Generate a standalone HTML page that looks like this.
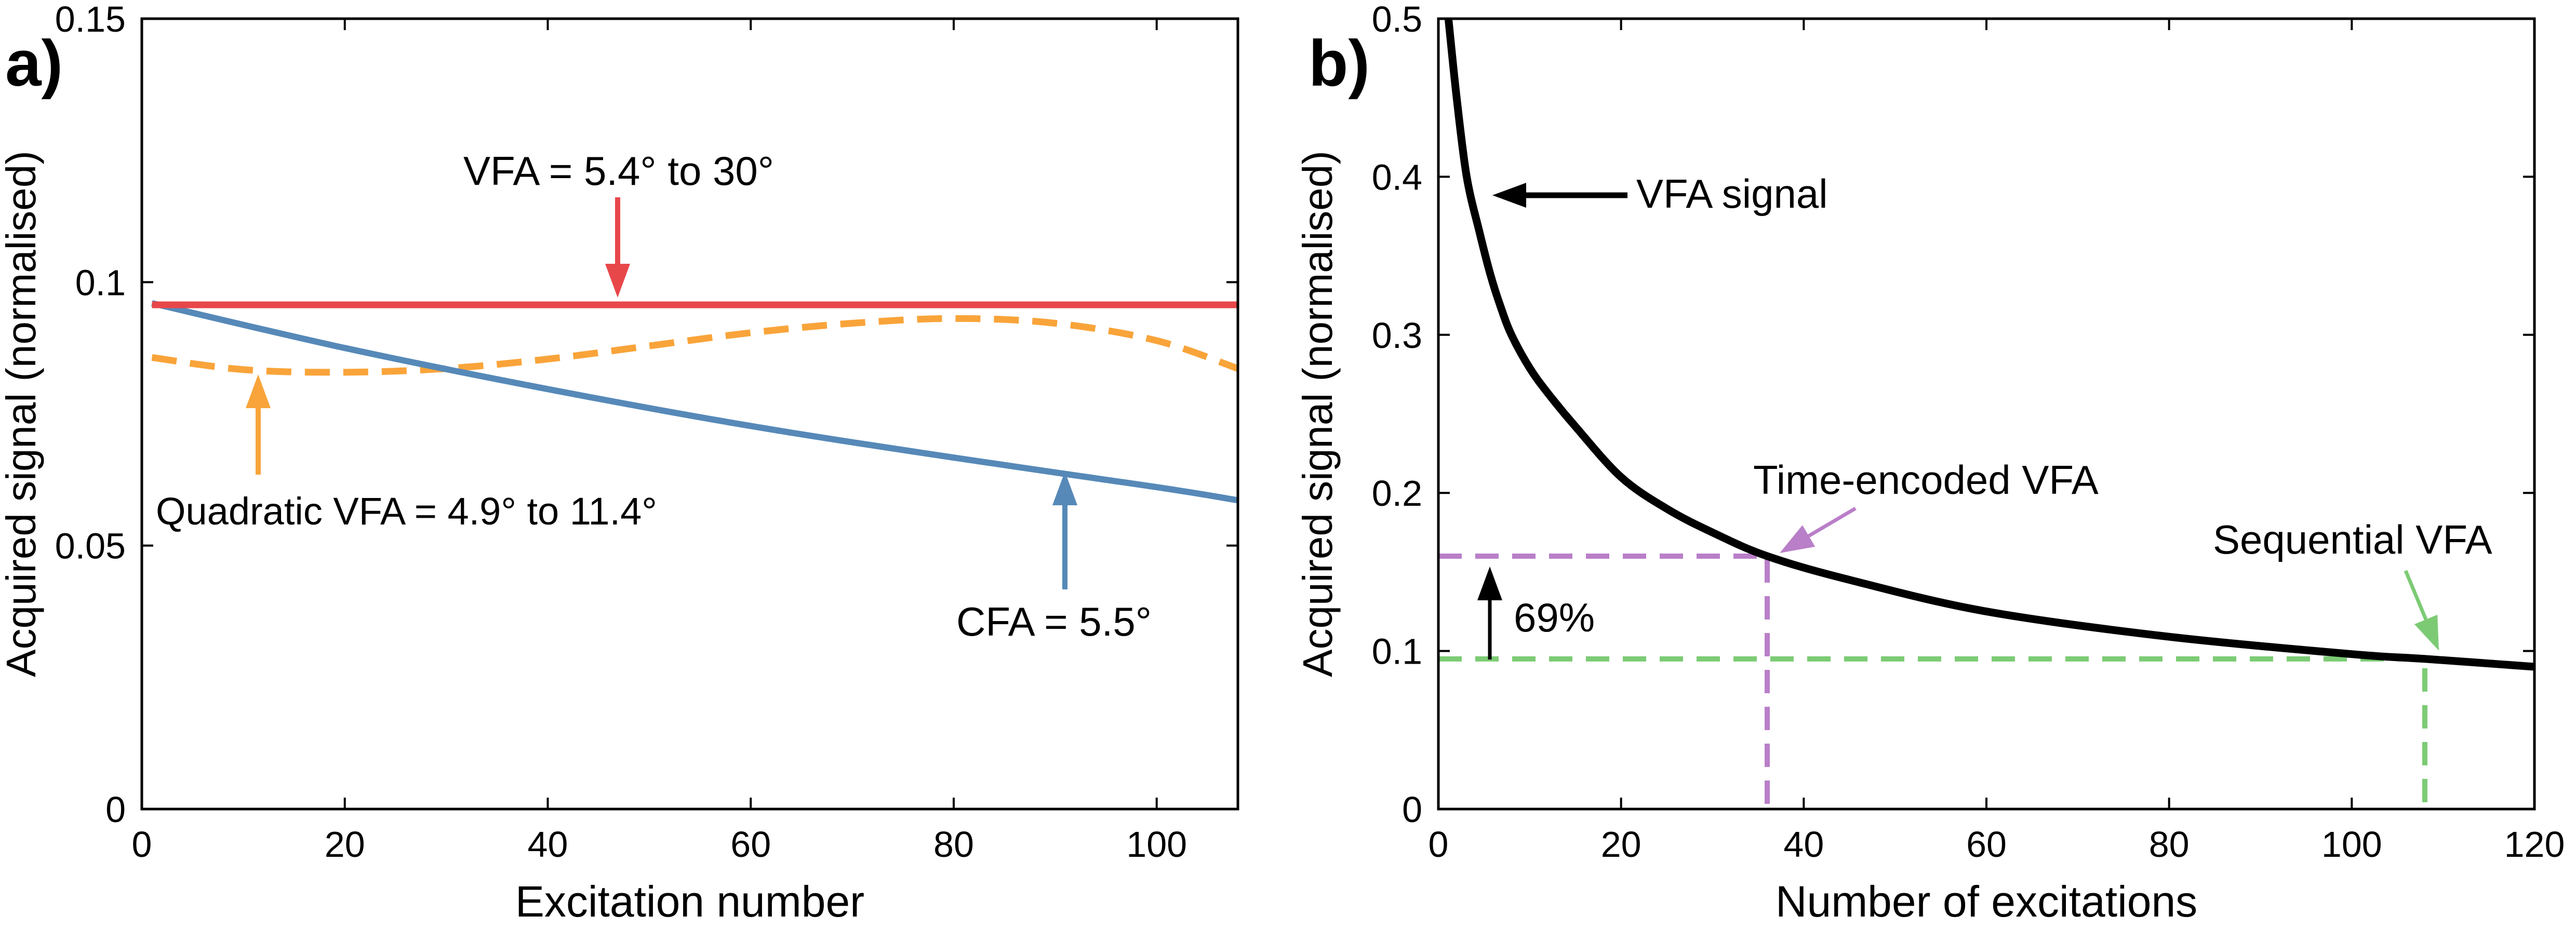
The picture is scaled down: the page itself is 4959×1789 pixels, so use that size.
<!DOCTYPE html>
<html><head><meta charset="utf-8"><style>
html,body{margin:0;padding:0;background:#fff;}
svg{display:block;}
text{font-family:"Liberation Sans",sans-serif;fill:#000;}
</style></head><body>
<svg id="fig" width="4959" height="1789" viewBox="0 0 4959 1789" xmlns="http://www.w3.org/2000/svg">
<g id="panelA"></g>
<g id="panelB"></g>
</svg>
<script>
// ---- Panel a data ----
const aXTicks = [0,20,40,60,80,100];
const aYTicks = [0,0.05,0.1,0.15];
const aYTickLabels = ["0","0.05","0.1","0.15"];
const aCfaX = [1,20,40,60,80,100,108];
const aCfaY = [0.096,0.0875,0.0797,0.0727,0.0667,0.0611,0.0586];
const aVfaX = [1,108];
const aVfaY = [0.0957,0.0957];
const aQuadX = [1,10,20,30,40,50,60,70,80,90,100,108];
const aQuadY = [0.0857,0.0834,0.0829,0.0836,0.0854,0.0879,0.0904,0.0922,0.0931,0.0922,0.0889,0.0836];
// ---- Panel b data ----
const bXTicks = [0,20,40,60,80,100,120];
const bYTicks = [0,0.1,0.2,0.3,0.4,0.5];
const bYTickLabels = ["0","0.1","0.2","0.3","0.4","0.5"];
const bN = [1.1,2,3.1,4.5,5.7,6.8,8,10,12,15,20,25,30,36,45,60,80,100,108,120];
const bS = [0.5,0.45,0.4,0.365,0.338,0.318,0.3,0.279,0.263,0.242,0.21,0.19,0.175,0.16,0.145,0.125,0.109,0.098,0.095,0.09];
const bTimeEnc = [36,0.16];
const bSeq = [108,0.095];

const NS="http://www.w3.org/2000/svg";
function mk(parent,tag,attrs,txt){const e=document.createElementNS(NS,tag);for(const k in attrs)e.setAttribute(k,attrs[k]);if(txt!==undefined)e.textContent=txt;parent.appendChild(e);return e;}
function smooth(pts){let d="M"+pts[0][0]+","+pts[0][1];for(let i=0;i<pts.length-1;i++){const p0=pts[Math.max(0,i-1)],p1=pts[i],p2=pts[i+1],p3=pts[Math.min(pts.length-1,i+2)];const c1x=p1[0]+(p2[0]-p0[0])/6,c1y=p1[1]+(p2[1]-p0[1])/6,c2x=p2[0]-(p3[0]-p1[0])/6,c2y=p2[1]-(p3[1]-p1[1])/6;d+=" C"+c1x+","+c1y+" "+c2x+","+c2y+" "+p2[0]+","+p2[1];}return d;}
function arrow(g,x1,y1,x2,y2,color,name,w){
  const dx=x2-x1,dy=y2-y1,L=Math.hypot(dx,dy),ux=dx/L,uy=dy/L,hl=65,hw=24;
  const bx=x2-ux*hl,by=y2-uy*hl;
  const a=mk(g,"g",{});
  
  
  mk(a,"line",{x1:x1,y1:y1,x2:bx,y2:by,stroke:color,"stroke-width":w||10});
  mk(a,"polygon",{points:`${x2},${y2} ${bx-uy*hw},${by+ux*hw} ${bx+uy*hw},${by-ux*hw}`,fill:color});
}
function txt(g,x,y,str,size,anchor,name,fill){
  const t=mk(g,"text",{x:x,y:y,"font-size":size,"text-anchor":anchor||"start",fill:fill||"#000"},str);
  
  
  return t;
}
function axes(g,L,R,T,B,xmax,ymax,xt,yt,ytl,xtitle,pfx){
  const X=v=>L+(R-L)*v/xmax, Y=v=>B-(B-T)*v/ymax;
  xt.forEach(v=>{
    const tk=mk(g,"path",{d:`M${X(v)},${B} v-22 M${X(v)},${T} v22`,stroke:"#000","stroke-width":4});
    
    
    txt(g,X(v),1650,String(v),70,"middle",pfx+'-x-tick-label',"#222");
  });
  yt.forEach((v,i)=>{
    const tk=mk(g,"path",{d:`M${L},${Y(v)} h22 M${R},${Y(v)} h-22`,stroke:"#000","stroke-width":4});
    
    
    txt(g,L-31,Y(v)+25,ytl[i],70,"end",pfx+'-y-tick-label',"#222");
  });
  txt(g,(L+R)/2,1765,xtitle,84,"middle",pfx+'-x-axis-title',"#222");
  const yt2=mk(g,"text",{transform:`translate(${L-205},${(T+B)/2}) rotate(-90)`,"font-size":80,"text-anchor":"middle",fill:"#222"},"Acquired signal (normalised)");
  
  
  return {X,Y};
}
function frame(g,L,R,T,B,pfx){
  const f=mk(g,"rect",{x:L,y:T,width:R-L,height:B-T,fill:"none",stroke:"#000","stroke-width":5});
  
  
}

// ---- Panel a ----
(function(){
  const g=document.getElementById("panelA");
  const L=273,R=2383,T=36,B=1558;
  const {X,Y}=axes(g,L,R,T,B,108,0.15,aXTicks,aYTicks,aYTickLabels,"Excitation number","a");
  const q=mk(g,"path",{d:smooth(aQuadX.map((x,i)=>[X(x),Y(aQuadY[i])])),fill:"none",stroke:"#f9a43a","stroke-width":13,"stroke-dasharray":"48 26"});
  
  
  const c=mk(g,"path",{d:smooth(aCfaX.map((x,i)=>[X(x),Y(aCfaY[i])])),fill:"none",stroke:"#5689b8","stroke-width":12});
  
  
  const v=mk(g,"path",{d:"M"+aVfaX.map((x,i)=>X(x)+","+Y(aVfaY[i])).join(" L"),fill:"none",stroke:"#e8474a","stroke-width":13});
  
  
  frame(g,L,R,T,B,"a");
  txt(g,892,356,"VFA = 5.4° to 30°",78,"start","vfa-annotation");
  arrow(g,1189,380,1189,573,"#e8474a","vfa-arrow");
  txt(g,300,1010,"Quadratic VFA = 4.9° to 11.4°",74,"start","quadratic-annotation");
  arrow(g,497,914,497,721,"#f9a43a","quadratic-arrow");
  txt(g,1841,1224,"CFA = 5.5°",78,"start","cfa-annotation");
  arrow(g,2050,1135,2050,908,"#5689b8","cfa-arrow");
  const lab=mk(g,"text",{x:10,y:165,"font-size":125,"font-weight":"bold"},"a)");
  
  
})();

// ---- Panel b ----
(function(){
  const g=document.getElementById("panelB");
  const L=2769,R=4879,T=36,B=1558;
  const {X,Y}=axes(g,L,R,T,B,120,0.5,bXTicks,bYTicks,bYTickLabels,"Number of excitations","b");
  const p1=mk(g,"path",{d:`M${L},${Y(bTimeEnc[1])} H${X(bTimeEnc[0])} V${B}`,fill:"none",stroke:"#b97fc8","stroke-width":10,"stroke-dasharray":"45 26"});
  
  
  const p2=mk(g,"path",{d:`M${L},${Y(bSeq[1])} H${X(bSeq[0])} V${B}`,fill:"none",stroke:"#7ccb74","stroke-width":10,"stroke-dasharray":"45 26"});
  
  
  const s=mk(g,"path",{d:smooth(bN.map((n,i)=>[X(n),Y(bS[i])])),fill:"none",stroke:"#000","stroke-width":15});
  
  
  frame(g,L,R,T,B,"b");
  txt(g,3150,400,"VFA signal",78,"start","vfa-signal-annotation");
  arrow(g,3133,376,2873,376,"#000","vfa-signal-arrow",11);
  txt(g,3375,951,"Time-encoded VFA",78,"start","time-encoded-annotation");
  arrow(g,3572,979,3426,1065,"#b97fc8","time-encoded-arrow",7);
  txt(g,4260,1066,"Sequential VFA",78,"start","sequential-annotation");
  arrow(g,4631,1099,4695,1253,"#7ccb74","sequential-arrow",7);
  txt(g,2914,1216,"69%",78,"start","percent-annotation");
  arrow(g,2868,1270,2868,1091,"#000","percent-arrow",7);
  const lab=mk(g,"text",{x:2519,y:165,"font-size":125,"font-weight":"bold"},"b)");
  
  
})();
</script>
</body></html>
